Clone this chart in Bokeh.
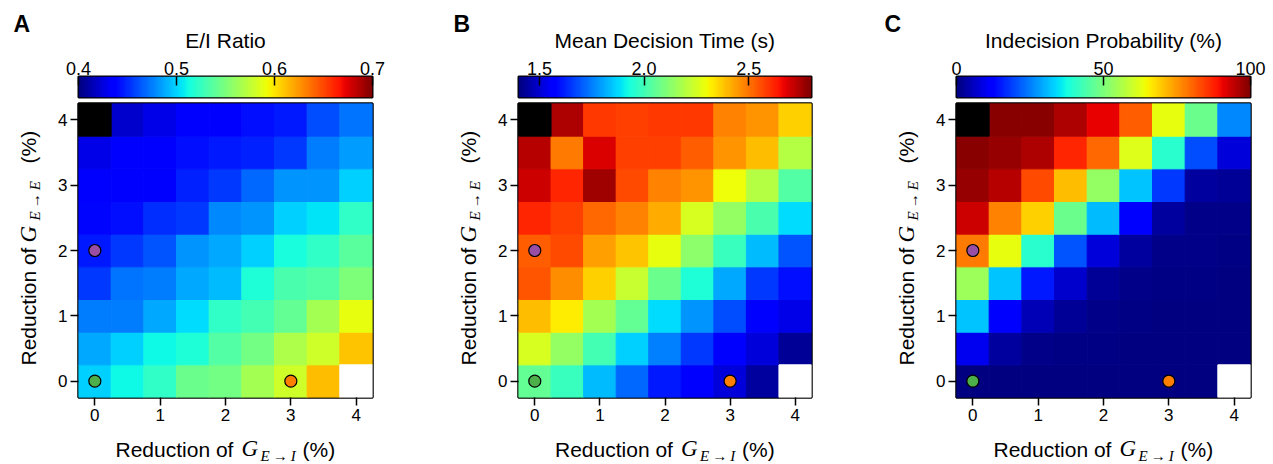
import numpy as np
from bokeh.plotting import figure
from bokeh.layouts import row, column
from bokeh.models import (LinearColorMapper, Range1d, FixedTicker, ColumnDataSource,
                          Label, PrintfTickFormatter)
from bokeh.embed import file_html
from bokeh.resources import INLINE

# ---------------- data ----------------
steps = [0.0, 0.5, 1.0, 1.5, 2.0, 2.5, 3.0, 3.5, 4.0]   # reduction (%) on both axes
nan = float("nan")

# rows: reduction of G_E->E = 0, 0.5, ... 4 ; columns: reduction of G_E->I = 0 ... 4
ei_ratio = [
    [0.499, 0.511, 0.523, 0.544, 0.547, 0.565, 0.580, 0.613, nan],
    [0.487, 0.499, 0.511, 0.517, 0.535, 0.547, 0.568, 0.580, 0.610],
    [0.475, 0.475, 0.487, 0.502, 0.523, 0.529, 0.541, 0.565, 0.589],
    [0.454, 0.472, 0.475, 0.487, 0.493, 0.517, 0.532, 0.535, 0.550],
    [0.445, 0.454, 0.463, 0.481, 0.487, 0.499, 0.514, 0.523, 0.538],
    [0.439, 0.442, 0.451, 0.454, 0.478, 0.481, 0.499, 0.505, 0.523],
    [0.433, 0.435, 0.436, 0.448, 0.454, 0.469, 0.481, 0.481, 0.499],
    [0.427, 0.433, 0.433, 0.442, 0.445, 0.448, 0.454, 0.475, 0.484],
    [nan,   0.421, 0.427, 0.433, 0.435, 0.442, 0.445, 0.460, 0.472],
]
decision_time = [
    [2.058, 1.988, 1.834, 1.722, 1.610, 1.554, 1.512, 1.442, nan],
    [2.254, 2.142, 2.002, 1.862, 1.750, 1.652, 1.568, 1.512, 1.428],
    [2.394, 2.324, 2.170, 2.058, 1.876, 1.778, 1.680, 1.568, 1.526],
    [2.548, 2.464, 2.366, 2.226, 2.072, 1.946, 1.806, 1.652, 1.596],
    [2.534, 2.562, 2.436, 2.380, 2.282, 2.128, 1.988, 1.834, 1.694],
    [2.618, 2.576, 2.520, 2.478, 2.422, 2.254, 2.142, 2.016, 1.876],
    [2.702, 2.618, 2.758, 2.562, 2.478, 2.450, 2.296, 2.198, 2.030],
    [2.730, 2.492, 2.688, 2.576, 2.576, 2.534, 2.450, 2.394, 2.198],
    [nan,   2.744, 2.590, 2.576, 2.590, 2.590, 2.478, 2.450, 2.366],
]
indecision = [
    [0.0, 0.0, 0.0, 0.0, 0.0, 0.0, 0.0, 0.0, nan],
    [10.0, 3.0, 1.0, 0.5, 0.5, 0.0, 0.0, 0.0, 0.0],
    [32.0, 11.0, 5.0, 2.0, 1.0, 0.5, 0.0, 0.0, 0.0],
    [54.0, 32.0, 15.0, 7.0, 2.0, 1.0, 0.5, 0.5, 0.0],
    [78.0, 63.0, 40.0, 21.0, 8.0, 3.0, 1.0, 1.0, 0.5],
    [93.0, 77.0, 69.0, 48.0, 31.0, 12.0, 3.0, 1.0, 1.0],
    [98.0, 95.0, 83.0, 71.0, 53.0, 32.0, 18.0, 3.0, 2.0],
    [99.0, 98.0, 96.0, 87.0, 80.0, 62.0, 40.0, 20.0, 8.0],
    [nan, 99.0, 99.0, 96.0, 91.0, 81.0, 63.0, 48.0, 26.0],
]

special_x = [0.0, 4.0]
special_y = [4.0, 0.0]
special_colors = ["black", "white"]

marker_x = [0.0, 0.0, 3.0]
marker_y = [0.0, 2.0, 0.0]
marker_colors = ["#4daf4a", "#984ea3", "#ff7f00"]

panel_data = [ei_ratio, decision_time, indecision]
cb_titles = ["E/I Ratio", "Mean Decision Time (s)", "Indecision Probability (%)"]
cb_lows = [0.4, 1.4, 0.0]
cb_highs = [0.7, 2.8, 100.0]
cb_ticks = [[0.4, 0.5, 0.6, 0.7], [1.5, 2.0, 2.5], [0, 50, 100]]
cb_formats = ["%.1f", "%.1f", "%d"]
axis_ticks = [0, 1, 2, 3, 4]
panel_letters = ["A", "B", "C"]
x_title = ["Reduction of", "G", "E\u2009\u2192\u2009I", "(%)"]
y_title = ["Reduction of", "G", "E\u2009\u2192\u2009E", "(%)"]

# ---------------- styling / layout ----------------
SANS = "Liberation Sans"
SERIF = "Liberation Serif"
fig_widths = [420, 420, 433]
left_borders = [78, 98, 116]      # frame left edge inside each panel
frame_widths = [294, 293, 294]
letter_x = [13, 33, 44]
FRAME_H = 294
TOP_H = 52        # strip with panel letter + colour-bar title
CB_H = 48         # colour bar figure (frame 76..97)
HM_H = 332        # heat map figure (frame 103..397)
XL_H = 464 - TOP_H - CB_H - HM_H
HM_LEFT = 28


def jet(n=256):
    t = np.linspace(0, 1, n)
    r = np.interp(t, [0, 0.35, 0.66, 0.89, 1], [0, 0, 1, 1, 0.5])
    g = np.interp(t, [0, 0.125, 0.375, 0.64, 0.91, 1], [0, 0, 1, 1, 0, 0])
    b = np.interp(t, [0, 0.11, 0.34, 0.65, 1], [0.5, 1, 1, 0, 0])
    return ["#%02x%02x%02x" % (int(round(255 * a)), int(round(255 * c)), int(round(255 * d)))
            for a, c, d in zip(r, g, b)]


JET = jet()


def strip(w, h, yr=None):
    s = figure(width=w, height=h, x_range=Range1d(0, w), y_range=yr or Range1d(0, h),
               toolbar_location=None, output_backend="svg", x_axis_location=None,
               y_axis_location=None, min_border=0)
    s.grid.visible = False
    s.outline_line_color = None
    s.background_fill_color = "white"
    s.border_fill_color = "white"
    return s


def add_text(p, x, y, text, font=SANS, size="21px", style="normal", angle=0.0, align="left"):
    p.add_layout(Label(x=x, y=y, text=text, text_font=font, text_font_size=size,
                       text_font_style=style, text_align=align,
                       text_baseline="middle", angle=angle, text_color="black"))


panels = []
for i in range(3):
    W = fig_widths[i]
    L = left_borders[i]
    FW = frame_widths[i]
    R = W - L - FW
    cx = L + FW / 2.0
    lo, hi = cb_lows[i], cb_highs[i]
    mapper = LinearColorMapper(palette=JET, low=lo, high=hi)

    # ---- top strip: panel letter + colour-bar title ----
    top = strip(W, TOP_H)
    add_text(top, letter_x[i], TOP_H - 23.5, panel_letters[i], size="23px", style="bold")
    add_text(top, cx, TOP_H - 40, cb_titles[i], size="21px", align="center")

    # ---- colour bar ----
    cb = figure(width=W, height=CB_H, x_range=Range1d(lo, hi), y_range=Range1d(0, 1),
                toolbar_location=None, output_backend="svg", x_axis_location="above",
                min_border_left=L, min_border_right=R, min_border_top=CB_H - 24,
                min_border_bottom=3)
    cb.min_border_top = 24
    cb.image(image=[np.linspace(lo, hi, 256).reshape(1, 256)], x=lo, y=0, dw=hi - lo, dh=1,
             color_mapper=mapper)
    cb.yaxis.visible = False
    cb.grid.visible = False
    xa = cb.xaxis[0]
    xa.ticker = FixedTicker(ticks=cb_ticks[i])
    xa.formatter = PrintfTickFormatter(format=cb_formats[i])
    xa.major_tick_in = 9
    xa.major_tick_out = 0
    xa.major_tick_line_width = 1.5
    xa.major_tick_line_color = "black"
    xa.minor_tick_line_color = None
    xa.axis_line_color = None
    xa.major_label_text_font = SANS
    xa.major_label_text_font_size = "18px"
    xa.major_label_text_color = "black"
    xa.major_label_standoff = 2
    cb.outline_line_color = "black"
    cb.outline_line_width = 2
    cb.outline_line_alpha = 1
    cb.background_fill_color = "white"
    cb.border_fill_color = "white"

    # ---- y-title strip (its frame is aligned with the heat map frame) ----
    yw = L - HM_LEFT
    ys_ = strip(yw, HM_H, Range1d(0, FRAME_H))
    ang = np.pi / 2
    mid_x = L - 50
    add_text(ys_, mid_x, 397 - 365, y_title[0], angle=ang)
    add_text(ys_, mid_x, 397 - 242, y_title[1], font=SERIF, size="23px", style="italic", angle=ang)
    add_text(ys_, mid_x + 6, 397 - 220, y_title[2], font=SERIF, size="15px", style="italic",
             angle=ang)
    add_text(ys_, mid_x, 397 - 163, y_title[3], angle=ang)

    # ---- heat map ----
    hm = figure(width=W - yw, height=HM_H, x_range=Range1d(-0.25, 4.25),
                y_range=Range1d(-0.25, 4.25), toolbar_location=None, output_backend="svg",
                min_border_left=HM_LEFT, min_border_right=R, min_border_top=3,
                min_border_bottom=HM_H - 3 - FRAME_H)
    xs, ysv, vals = [], [], []
    data = panel_data[i]
    for r_i, yv in enumerate(steps):
        for c_i, xv in enumerate(steps):
            v = data[r_i][c_i]
            if v == v:
                xs.append(xv)
                ysv.append(yv)
                vals.append(v)
    src = ColumnDataSource(dict(x=xs, y=ysv, v=vals))
    cmap = {"field": "v", "transform": mapper}
    hm.rect(x="x", y="y", width=0.5, height=0.5, source=src,
            fill_color=cmap, line_color=cmap, line_width=1)
    hm.rect(x=special_x, y=special_y, width=0.5, height=0.5, fill_color=special_colors,
            line_color=special_colors, line_width=1)
    hm.scatter(x=marker_x, y=marker_y, size=12, fill_color=marker_colors,
               line_color="black", line_width=1.2)
    hm.grid.visible = False
    for ax in (hm.xaxis[0], hm.yaxis[0]):
        ax.ticker = FixedTicker(ticks=axis_ticks)
        ax.major_tick_out = 8
        ax.major_tick_in = 0
        ax.major_tick_line_width = 1.5
        ax.major_tick_line_color = "black"
        ax.minor_tick_line_color = None
        ax.axis_line_color = None
        ax.major_label_text_font = SANS
        ax.major_label_text_font_size = "17px"
        ax.major_label_text_color = "black"
        ax.major_label_standoff = 3
    hm.outline_line_color = "black"
    hm.outline_line_width = 2.5
    hm.outline_line_alpha = 1
    hm.background_fill_color = "white"
    hm.border_fill_color = "white"

    # ---- x-title strip ----
    xs_ = strip(W, XL_H)
    add_text(xs_, cx - 110, 464 - 449, x_title[0])
    add_text(xs_, cx + 16, 464 - 448, x_title[1], font=SERIF, size="23px", style="italic")
    add_text(xs_, cx + 35, 464 - 455, x_title[2], font=SERIF, size="15px", style="italic")
    add_text(xs_, cx + 77, 464 - 449, x_title[3])

    panels.append(column(row(top), row(cb), row(ys_, hm, spacing=0), row(xs_), spacing=0))

layout = row(*panels, spacing=0)
open("out.html", "w").write(file_html(layout, INLINE))
